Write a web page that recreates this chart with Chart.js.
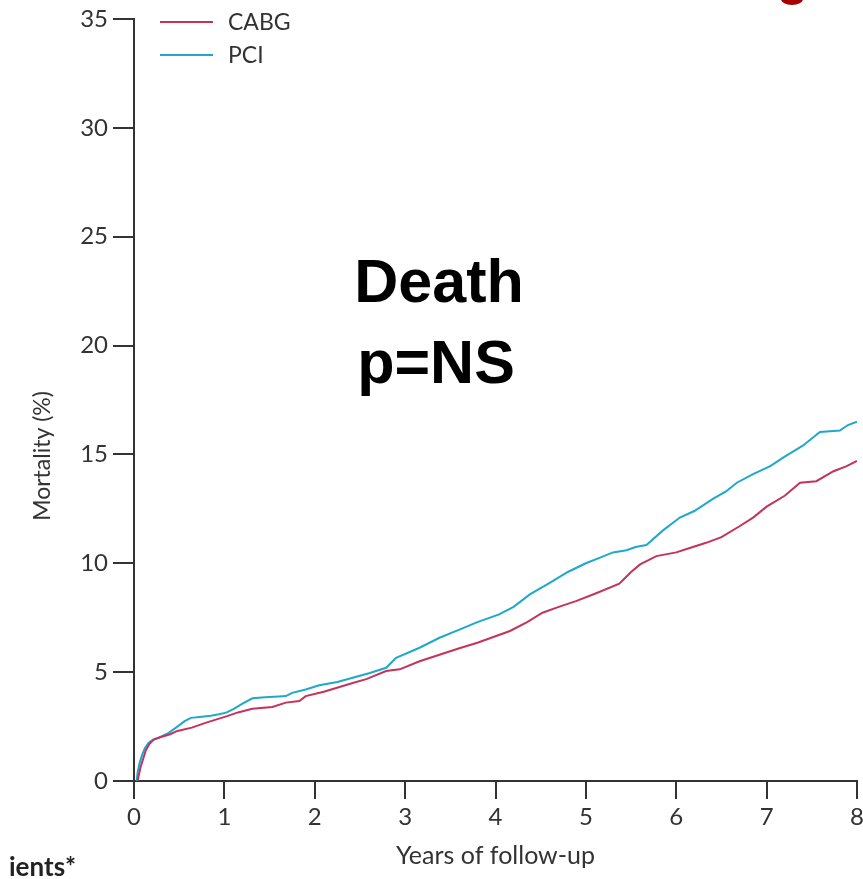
<!DOCTYPE html>
<html>
<head>
<meta charset="utf-8">
<style>
  html, body { margin: 0; padding: 0; background: #ffffff; }
  #wrap { position: relative; width: 863px; height: 879px; overflow: hidden; }
  canvas { display: block; }
</style>
<script src="https://cdn.jsdelivr.net/npm/chart.js@4/dist/chart.umd.min.js"></script>
</head>
<body>
<div id="wrap"><canvas id="c" width="863" height="879"></canvas></div>
<script>
// Cumulative mortality (%) against years of follow-up
const cabgYears = [0.04, 0.07, 0.10, 0.13, 0.17, 0.22, 0.28, 0.40, 0.48, 0.64, 0.79, 1.03, 1.15, 1.31, 1.53, 1.68, 1.83, 1.90, 2.10, 2.42, 2.57, 2.79, 2.94, 3.16, 3.38, 3.60, 3.80, 4.16, 4.35, 4.52, 4.70, 4.89, 5.10, 5.37, 5.50, 5.60, 5.78, 6.00, 6.15, 6.33, 6.50, 6.70, 6.85, 7.00, 7.20, 7.37, 7.55, 7.74, 7.88, 8.00];
const cabgMortality = [0, 0.6, 1.0, 1.4, 1.7, 1.9, 2.0, 2.15, 2.3, 2.45, 2.67, 2.98, 3.15, 3.32, 3.4, 3.6, 3.67, 3.9, 4.1, 4.5, 4.68, 5.05, 5.13, 5.5, 5.8, 6.1, 6.35, 6.89, 7.3, 7.73, 8.0, 8.26, 8.6, 9.06, 9.6, 9.95, 10.33, 10.5, 10.7, 10.94, 11.2, 11.7, 12.1, 12.6, 13.1, 13.7, 13.77, 14.23, 14.45, 14.7];

const pciYears = [0.03, 0.04, 0.06, 0.09, 0.12, 0.16, 0.21, 0.28, 0.38, 0.48, 0.56, 0.63, 0.75, 0.85, 0.94, 1.02, 1.10, 1.20, 1.31, 1.45, 1.60, 1.68, 1.75, 1.90, 2.05, 2.25, 2.42, 2.60, 2.79, 2.90, 3.16, 3.38, 3.60, 3.80, 4.04, 4.20, 4.38, 4.60, 4.80, 5.00, 5.15, 5.30, 5.45, 5.55, 5.67, 5.85, 6.04, 6.20, 6.41, 6.55, 6.67, 6.85, 7.04, 7.20, 7.40, 7.59, 7.81, 7.90, 8.00];
const pciMortality = [0, 0.4, 0.8, 1.2, 1.5, 1.75, 1.9, 2.0, 2.2, 2.5, 2.75, 2.9, 2.95, 3.0, 3.07, 3.14, 3.3, 3.55, 3.8, 3.85, 3.88, 3.9, 4.05, 4.2, 4.4, 4.55, 4.74, 4.95, 5.2, 5.66, 6.12, 6.58, 6.95, 7.3, 7.65, 8.0, 8.57, 9.1, 9.6, 10.0, 10.25, 10.5, 10.6, 10.75, 10.84, 11.5, 12.1, 12.4, 12.97, 13.3, 13.7, 14.1, 14.46, 14.9, 15.4, 16.03, 16.1, 16.35, 16.5];

const seriesNames = ['CABG', 'PCI'];
const xTickValues = [0, 1, 2, 3, 4, 5, 6, 7, 8];
const yTickValues = [0, 5, 10, 15, 20, 25, 30, 35];
const xAxisTitle = 'Years of follow-up';
const yAxisTitle = 'Mortality (%)';
const overlayTitle = ['Death', 'p=NS'];
const footnoteText = 'ients*';

const CABG_COLOR = '#c3335c';
const PCI_COLOR = '#1ea8cb';
const AXIS_COLOR = '#333333';
const LABEL_FONT = 'Lato, "Open Sans", "Liberation Sans", sans-serif';

function toPoints(xs, ys) {
  return xs.map((x, i) => ({ x: x, y: ys[i] }));
}

// Legend drawn inside the plot, top-left, with line samples
const insideLegend = {
  id: 'insideLegend',
  afterDatasetsDraw(chart) {
    const ctx = chart.ctx;
    ctx.save();
    ctx.font = '23px ' + LABEL_FONT;
    ctx.textBaseline = 'middle';
    ctx.textAlign = 'left';
    chart.data.datasets.forEach((ds, i) => {
      const y = 22 + i * 33;
      ctx.strokeStyle = ds.borderColor;
      ctx.lineWidth = 2;
      ctx.beginPath();
      ctx.moveTo(160, y);
      ctx.lineTo(213, y);
      ctx.stroke();
      ctx.fillStyle = AXIS_COLOR;
      ctx.fillText(ds.label, 228, y + 1);
    });
    ctx.restore();
  }
};

// Rotated y-axis title, large annotation, and the edge fragments
const annotations = {
  id: 'annotations',
  afterDraw(chart) {
    const ctx = chart.ctx;
    ctx.save();
    ctx.translate(43, 456);
    ctx.rotate(-Math.PI / 2);
    ctx.fillStyle = AXIS_COLOR;
    ctx.textAlign = 'center';
    ctx.textBaseline = 'middle';
    ctx.font = '23px ' + LABEL_FONT;
    ctx.fillText(yAxisTitle, 0, 0);
    ctx.restore();

    ctx.save();
    ctx.fillStyle = '#000000';
    ctx.textAlign = 'center';
    ctx.textBaseline = 'alphabetic';
    ctx.font = 'bold 61px "Liberation Sans", Arial, sans-serif';
    ctx.fillText(overlayTitle[0], 439, 302);
    ctx.fillText(overlayTitle[1], 436, 383);

    ctx.textAlign = 'left';
    ctx.fillStyle = '#222222';
    ctx.font = 'bold 26px ' + LABEL_FONT;
    ctx.fillText(footnoteText, 9, 876);

    ctx.fillStyle = '#a40000';
    ctx.beginPath();
    ctx.ellipse(792, -1, 11, 6, 0, 0, Math.PI * 2);
    ctx.fill();
    ctx.restore();
  }
};

new Chart(document.getElementById('c'), {
  type: 'line',
  data: {
    datasets: [
      {
        label: seriesNames[0],
        data: toPoints(cabgYears, cabgMortality),
        borderColor: CABG_COLOR,
        borderWidth: 2,
        pointRadius: 0,
        tension: 0,
        fill: false
      },
      {
        label: seriesNames[1],
        data: toPoints(pciYears, pciMortality),
        borderColor: PCI_COLOR,
        borderWidth: 2,
        pointRadius: 0,
        tension: 0,
        fill: false
      }
    ]
  },
  options: {
    responsive: false,
    animation: false,
    devicePixelRatio: 1,
    layout: { padding: { top: 19, right: 6, left: 0, bottom: 0 } },
    plugins: {
      legend: { display: false },
      tooltip: { enabled: false }
    },
    scales: {
      x: {
        type: 'linear',
        position: 'bottom',
        min: 0,
        max: 8,
        afterBuildTicks(scale) { scale.ticks = xTickValues.map(v => ({ value: v })); },
        afterFit(scale) {
          scale.height = 98;
          scale.paddingLeft = 0;
          scale.paddingRight = 0;
        },
        ticks: {
          color: AXIS_COLOR,
          font: { family: LABEL_FONT, size: 24 },
          padding: 4,
          maxRotation: 0
        },
        grid: {
          drawOnChartArea: false,
          drawTicks: true,
          tickLength: 18,
          color: AXIS_COLOR,
          lineWidth: 2
        },
        border: { display: true, color: AXIS_COLOR, width: 2 },
        title: {
          display: true,
          text: xAxisTitle,
          color: AXIS_COLOR,
          font: { family: LABEL_FONT, size: 25 },
          padding: { top: 0, bottom: 8 }
        }
      },
      y: {
        type: 'linear',
        position: 'left',
        min: 0,
        max: 35,
        afterBuildTicks(scale) { scale.ticks = yTickValues.map(v => ({ value: v })); },
        afterFit(scale) {
          scale.width = 134;
          scale.paddingTop = 0;
          scale.paddingBottom = 0;
        },
        ticks: {
          color: AXIS_COLOR,
          font: { family: LABEL_FONT, size: 24 },
          padding: 5
        },
        grid: {
          drawOnChartArea: false,
          drawTicks: true,
          tickLength: 21,
          color: AXIS_COLOR,
          lineWidth: 2
        },
        border: { display: true, color: AXIS_COLOR, width: 2 },
        title: { display: false }
      }
    }
  },
  plugins: [insideLegend, annotations]
});
</script>
</body>
</html>
